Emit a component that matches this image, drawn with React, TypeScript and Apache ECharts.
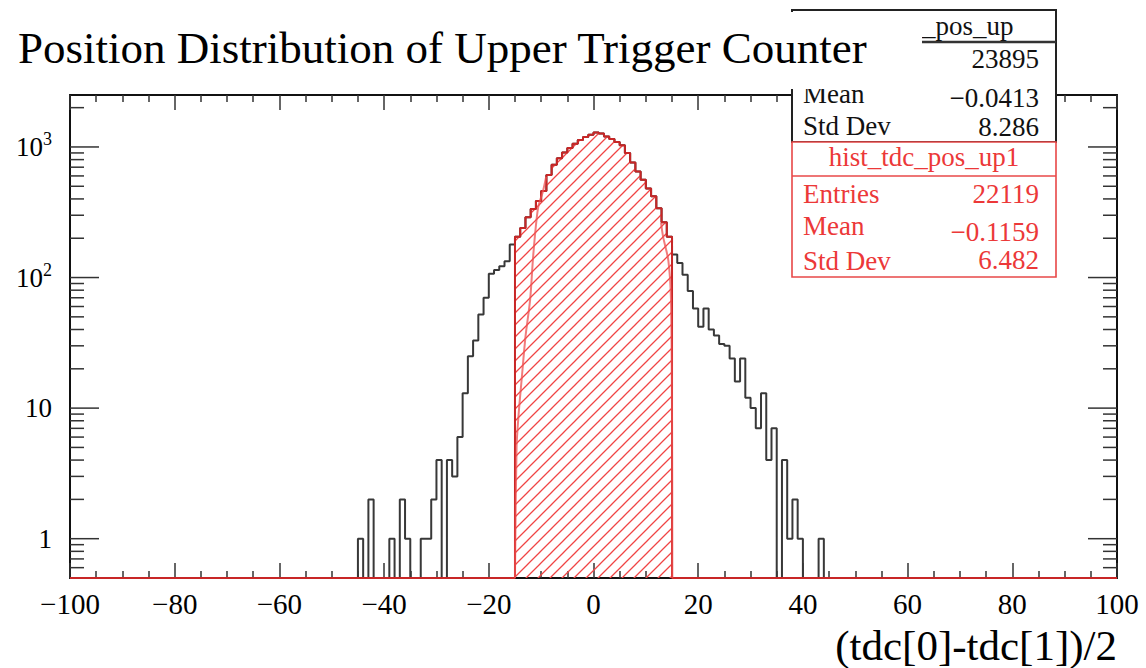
import React, { useEffect, useRef } from 'react';
import * as echarts from 'echarts';

// ---------- data ----------
const X_MIN = -100;
const X_MAX = 100;
const X_INTERVAL = 20;
const Y_MIN = 0.5;
const Y_MAX = 2500;

// black histogram: 1-unit bins, first bin starts at blackStart
const blackStart = -46;
const blackCounts = [
  0, 1, 0, 2, 0, 0, 0, 1, 0, 2, // -46 .. -37
  1, 0, 0, 1, 1, 2, 4, 0, 4, 3, // -36 .. -27
  6, 13, 25, 33, 52, 70, 107, 114, 122, 133, // -26 .. -17
  179, // -16
  205, 240, 290, 335, 385, 460, 610, 730, 820, 905, // -15 .. -6
  980, 1060, 1130, 1190, 1240, 1290, 1270, 1200, 1150, 1090, // -5 .. 4
  1030, 900, 760, 650, 560, 480, 420, 340, 265, 205, // 5 .. 14
  150, 129, 105, 79, 58, 42, 58, 40, 36, 31, // 15 .. 24
  30, 24, 16, 24, 12, 10, 7, 13, 4, 7, // 25 .. 34
  0, 4, 1, 2, 1, 0, 0, 0, 1, 0, 0, // 35 .. 45
];

// red (hatched) histogram
const redStart = -15;
const redCounts = [
  205, 240, 290, 335, 385, 460, 610, 730, 820, 905,
  980, 1060, 1130, 1190, 1240, 1290, 1270, 1200, 1150, 1090,
  1030, 900, 760, 650, 560, 480, 420, 340, 265, 205,
];

// light red inner curve
const innerLeftX = [-15.0, -14.7, -14.3, -13.7, -13.0, -12.1, -11.5, -10.6, -9.7, -9.05];
const innerLeftY = [0.5, 5, 9, 17, 35, 68, 150, 340, 450, 590];
const innerRightX = [12.9, 13.3, 14.3, 14.8, 15.0, 15.05];
const innerRightY = [262, 205, 135, 68, 8, 0.5];

const yMajorTicks = [1, 10, 100, 1000];
const yMinorTicks = [0.6, 0.7, 0.8, 0.9, 2, 3, 4, 5, 6, 7, 8, 9, 20, 30, 40, 50, 60, 70, 80, 90, 200, 300, 400, 500, 600, 700, 800, 900, 2000];

const titleText = 'Position Distribution of Upper Trigger Counter';
const xTitle = '(tdc[0]-tdc[1])/2';
const statLabels = ['Entries', 'Mean', 'Std Dev'];
const blackNameVisible = '_pos_up';
const blackStats = ['23895', '\u22120.0413', '8.286'];
const redName = 'hist_tdc_pos_up1';
const redStats = ['22119', '\u22120.1159', '6.482'];

// ---------- helpers ----------
function outline(counts: number[], start: number): number[][] {
  const pts: number[][] = [];
  for (let e = X_MIN; e < X_MAX; e++) {
    const i = e - start;
    const c = i >= 0 && i < counts.length ? counts[i] : 0;
    const v = c > 0 ? c : Y_MIN;
    pts.push([e, v], [e + 1, v]);
  }
  return pts;
}

const FONT = "'Liberation Serif', 'Times New Roman', serif";

export default function App() {
  const ref = useRef<HTMLDivElement>(null);
  useEffect(() => {
    if (!ref.current) return;
    const chart = echarts.init(ref.current, undefined, { renderer: 'svg' });

    const hatchSvg =
      '<svg xmlns="http://www.w3.org/2000/svg" width="12" height="12">' +
      '<path d="M-3 3L3 -3M0 12L12 0M9 15L15 9" stroke="#f04545" stroke-width="1.3" fill="none"/></svg>';
    const hatchUrl = 'data:image/svg+xml;charset=utf-8,' + encodeURIComponent(hatchSvg);

    const axisLineStyle = { color: '#111', width: 2 };
    const tickStyle = { color: '#333', width: 1.5 };

    const xAxisBase = {
      type: 'value',
      min: X_MIN,
      max: X_MAX,
      interval: X_INTERVAL,
      axisLine: { show: true, onZero: false, lineStyle: axisLineStyle },
      axisTick: { show: true, inside: true, length: 15, lineStyle: tickStyle },
      minorTick: { show: true, splitNumber: 4, length: 7, lineStyle: tickStyle },
      splitLine: { show: false },
      minorSplitLine: { show: false },
    };
    const yAxisBase = {
      type: 'log',
      logBase: 10,
      min: Y_MIN,
      max: Y_MAX,
      axisLine: { show: true, onZero: false, lineStyle: axisLineStyle },
      axisTick: { show: false },
      minorTick: { show: false },
      splitLine: { show: false },
      minorSplitLine: { show: false },
    };

    const option: any = {
      animation: false,
      backgroundColor: '#fff',
      grid: { left: 70, right: 29, top: 95, bottom: 90, show: false },
      xAxis: [
        {
          ...xAxisBase,
          position: 'bottom',
          axisLabel: {
            show: true,
            margin: 11,
            fontSize: 29,
            fontFamily: FONT,
            color: '#000',
            formatter: (v: number) => (v < 0 ? '\u2212' + Math.abs(v) : String(v)),
          },
        },
        { ...xAxisBase, position: 'top', axisLabel: { show: false } },
      ],
      yAxis: [
        {
          ...yAxisBase,
          position: 'left',
          axisLabel: {
            show: true,
            margin: 18,
            fontSize: 27,
            fontFamily: FONT,
            color: '#000',
            formatter: (v: number) => {
              const l = Math.log10(v);
              const r = Math.round(l);
              if (Math.abs(l - r) > 1e-6) return '';
              if (r === 0) return '{b|1}';
              if (r === 1) return '{b|10}';
              return '{b|10}{s|' + r + '}';
            },
            rich: {
              b: { fontSize: 27, fontFamily: FONT, color: '#000', lineHeight: 27, verticalAlign: 'bottom' },
              s: { fontSize: 18, fontFamily: FONT, color: '#000', lineHeight: 18, padding: [0, 0, 12, 0], verticalAlign: 'bottom' },
            },
          },
        },
        { ...yAxisBase, position: 'right', axisLabel: { show: false } },
      ],
      series: [
        {
          name: 'hist_tdc_pos_up',
          type: 'line',
          xAxisIndex: 0,
          yAxisIndex: 0,
          data: outline(blackCounts, blackStart),
          showSymbol: false,
          symbol: 'none',
          lineStyle: { color: '#383838', width: 2 },
          z: 2,
          clip: true,
        },
        {
          name: redName,
          type: 'line',
          xAxisIndex: 0,
          yAxisIndex: 0,
          data: outline(redCounts, redStart),
          showSymbol: false,
          symbol: 'none',
          lineStyle: { color: '#c82626', width: 2 },
          areaStyle: {
            origin: 'start',
            opacity: 1,
            color: { image: hatchUrl, repeat: 'repeat', imageWidth: 12, imageHeight: 12 },
          },
          z: 3,
          clip: true,
        },
        {
          type: 'line',
          data: innerLeftX.map((x, i) => [x, innerLeftY[i]]),
          smooth: 0.3,
          showSymbol: false,
          symbol: 'none',
          lineStyle: { color: 'rgba(238,80,80,0.75)', width: 2 },
          z: 4,
        },
        {
          type: 'line',
          data: innerRightX.map((x, i) => [x, innerRightY[i]]),
          smooth: 0.3,
          showSymbol: false,
          symbol: 'none',
          lineStyle: { color: 'rgba(238,80,80,0.75)', width: 2 },
          z: 4,
        },
      ],
    };
    chart.setOption(option);

    // ----- y-axis ticks (log minor ticks) drawn through the axis scale -----
    const xl = chart.convertToPixel({ xAxisIndex: 0 }, X_MIN) as number;
    const xr = chart.convertToPixel({ xAxisIndex: 0 }, X_MAX) as number;
    const g: any[] = [];
    const addTick = (v: number, len: number) => {
      const y = chart.convertToPixel({ yAxisIndex: 0 }, v) as number;
      g.push({ type: 'line', shape: { x1: xl, y1: y, x2: xl + len, y2: y }, style: { stroke: '#333', lineWidth: 1.5 }, z: 5, silent: true });
      g.push({ type: 'line', shape: { x1: xr, y1: y, x2: xr - len, y2: y }, style: { stroke: '#333', lineWidth: 1.5 }, z: 5, silent: true });
    };
    yMajorTicks.forEach((v) => addTick(v, 29));
    yMinorTicks.forEach((v) => addTick(v, 14));

    // ----- stats boxes -----
    const bx = 792, bw = 264;
    const txt = (text: string, x: number, y: number, color: string, align: string, size = 27, z = 101) => ({
      type: 'text', x, y, z, silent: true,
      style: { text, fill: color, fontSize: size, fontFamily: FONT, align, verticalAlign: 'middle', lineHeight: Math.round(size * 0.85) },
    });
    // black box (its upper-left part is hidden behind the title box)
    g.push({ type: 'rect', shape: { x: bx, y: 10, width: bw, height: 132 }, style: { fill: '#fff', stroke: '#222', lineWidth: 2 }, z: 100 });
    g.push({ type: 'line', shape: { x1: bx, y1: 42, x2: bx + bw, y2: 42 }, style: { stroke: '#333', lineWidth: 2.5 }, z: 101 });
    g.push(txt(blackNameVisible, 922, 26, '#111', 'left'));
    const blackY = [59, 94, 126];
    const blackVY = [59, 98, 127];
    statLabels.forEach((l, i) => {
      if (i > 0) g.push(txt(l, 803, blackY[i], '#111', 'left'));
      g.push(txt(blackStats[i], 1039, blackVY[i], '#111', 'right'));
    });
    // red box
    const red = '#ec3838';
    g.push({ type: 'rect', shape: { x: bx, y: 142, width: bw, height: 135 }, style: { fill: '#fff', stroke: '#e84848', lineWidth: 1.6 }, z: 100 });
    g.push({ type: 'line', shape: { x1: bx, y1: 176, x2: bx + bw, y2: 176 }, style: { stroke: '#e84848', lineWidth: 1.6 }, z: 101 });
    g.push(txt(redName, bx + bw / 2, 157, red, 'center'));
    const redY = [194, 226, 261];
    const redVY = [194, 232, 260];
    statLabels.forEach((l, i) => {
      g.push(txt(l, 803, redY[i], red, 'left'));
      g.push(txt(redStats[i], 1039, redVY[i], red, 'right'));
    });
    // title box covering part of the stats box
    g.push({ type: 'rect', shape: { x: 0, y: 12, width: 922, height: 77 }, style: { fill: '#fff' }, z: 110 });
    g.push(txt(titleText, 18, 48, '#000', 'left', 45, 111));
    // x-axis title
    g.push(txt(xTitle, xr, 645, '#000', 'right', 43, 111));

    chart.setOption({ graphic: g });

    return () => chart.dispose();
  }, []);

  return (
    <div
      ref={ref}
      style={{ position: 'absolute', left: 0, top: 0, width: 1146, height: 668, background: '#fff' }}
    />
  );
}
